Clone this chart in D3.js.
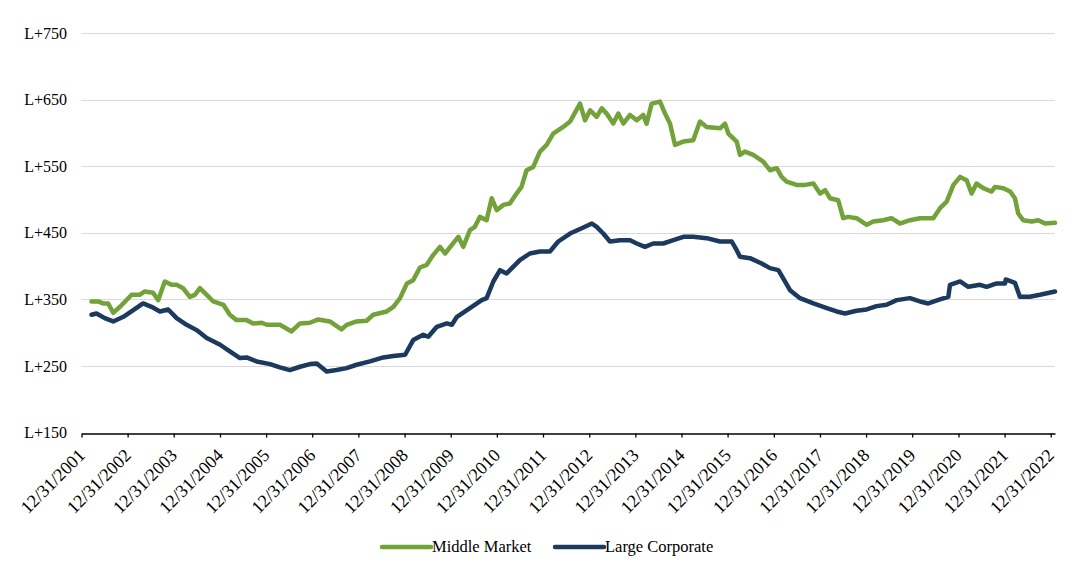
<!DOCTYPE html>
<html>
<head>
    <title>Middle Market vs Large Corporate spreads</title>
    <script src="https://d3js.org/d3.v7.min.js"></script>
    <style>
        body { margin: 0; background: #fff; }
        svg { display: block; }
        .grid line { stroke: #d9d9d9; stroke-width: 1px; }
        .series { fill: none; stroke-width: 4.5px; stroke-linejoin: round; stroke-linecap: round; }
    </style>
</head>
<body>
    <svg></svg>
    <script>
        // Datos (spread sobre LIBOR, pb)
        const mmDates = ["2002-03-20","2002-05-11","2002-06-20","2002-07-30","2002-09-08","2002-11-01","2003-02-01","2003-04-06","2003-05-16","2003-07-20","2003-08-30","2003-10-21","2003-12-14","2004-01-23","2004-03-14","2004-05-06","2004-06-15","2004-07-25","2004-09-17","2004-11-08","2005-01-27","2005-03-19","2005-05-11","2005-07-29","2005-09-20","2005-11-26","2006-01-05","2006-04-19","2006-07-20","2006-09-25","2006-12-13","2007-02-17","2007-05-19","2007-08-20","2007-09-29","2007-12-17","2008-03-05","2008-04-27","2008-08-12","2008-10-03","2008-11-25","2009-01-18","2009-03-09","2009-05-01","2009-06-24","2009-08-15","2009-10-07","2009-11-16","2010-01-09","2010-03-01","2010-04-09","2010-06-01","2010-07-10","2010-08-19","2010-10-11","2010-11-20","2010-12-30","2011-02-21","2011-04-13","2011-06-05","2011-07-14","2011-08-23","2011-10-15","2011-12-07","2012-01-29","2012-03-21","2012-06-08","2012-08-01","2012-10-19","2012-11-28","2013-01-07","2013-02-28","2013-04-09","2013-05-18","2013-07-09","2013-08-18","2013-09-27","2013-11-19","2014-01-11","2014-03-03","2014-03-30","2014-05-09","2014-07-14","2014-08-23","2014-10-01","2014-11-10","2015-01-15","2015-04-03","2015-05-26","2015-07-18","2015-11-01","2015-12-10","2016-01-06","2016-03-12","2016-04-07","2016-05-16","2016-07-21","2016-10-08","2016-11-30","2017-01-23","2017-03-03","2017-04-11","2017-06-29","2017-09-04","2017-11-09","2018-01-01","2018-02-10","2018-03-20","2018-05-24","2018-07-03","2018-08-12","2018-10-17","2019-01-05","2019-02-26","2019-05-15","2019-07-20","2019-09-25","2019-12-13","2020-03-01","2020-06-15","2020-08-07","2020-09-29","2020-11-21","2021-01-13","2021-03-06","2021-04-14","2021-05-23","2021-07-15","2021-09-20","2021-10-16","2021-12-21","2022-02-13","2022-03-23","2022-04-18","2022-05-27","2022-08-02","2022-09-24","2022-11-16","2023-02-03"];
        const mmValues = [347,347,344,344,330,339,357,357,362,360,349,377,372,372,367,354,357,367,357,347,342,327,319,319,314,315,312,312,302,314,315,320,317,305,312,317,318,327,332,339,352,374,379,398,402,417,429,419,432,444,429,454,459,474,469,502,484,492,494,509,519,544,549,572,582,599,609,617,644,619,634,624,637,629,614,629,614,627,619,627,614,644,647,629,614,582,587,589,617,609,607,614,599,587,567,572,567,557,544,547,534,527,522,522,524,509,514,502,499,472,474,472,462,467,469,472,464,469,472,472,487,497,522,534,529,509,524,517,512,519,517,512,502,479,469,467,469,464,465];

        const lcDates = ["2002-03-20","2002-04-29","2002-07-03","2002-09-08","2002-11-27","2003-02-14","2003-05-02","2003-07-08","2003-09-13","2003-11-17","2004-01-23","2004-04-11","2004-06-29","2004-09-17","2005-01-01","2005-03-19","2005-06-07","2005-07-29","2005-10-17","2006-02-01","2006-04-19","2006-07-07","2006-09-25","2006-12-13","2007-02-05","2007-04-24","2007-07-12","2007-09-29","2007-12-17","2008-04-01","2008-07-15","2008-10-03","2009-01-04","2009-03-09","2009-05-27","2009-07-06","2009-09-12","2009-11-30","2010-01-09","2010-02-18","2010-06-01","2010-09-02","2010-10-11","2010-12-03","2011-01-25","2011-03-18","2011-05-09","2011-07-01","2011-09-18","2011-12-07","2012-02-24","2012-04-30","2012-08-01","2012-11-02","2013-01-21","2013-02-28","2013-04-21","2013-06-13","2013-09-01","2013-11-19","2014-01-11","2014-03-17","2014-05-21","2014-08-09","2014-10-28","2015-01-15","2015-04-03","2015-07-18","2015-11-01","2016-02-02","2016-03-12","2016-04-07","2016-06-25","2016-09-26","2016-11-30","2017-02-05","2017-03-29","2017-05-08","2017-07-26","2017-11-09","2018-02-23","2018-05-12","2018-07-17","2018-10-17","2019-01-05","2019-03-24","2019-06-11","2019-08-30","2019-12-13","2020-03-01","2020-05-06","2020-08-07","2020-10-12","2020-10-25","2021-01-13","2021-03-19","2021-06-19","2021-08-11","2021-10-30","2022-01-04","2022-01-09","2022-03-23","2022-05-01","2022-07-19","2022-10-07","2023-02-03"];
        const lcValues = [327,329,322,317,324,334,344,339,332,335,322,312,304,292,282,272,262,263,257,253,248,244,249,253,254,242,244,247,252,257,263,265,267,289,297,294,309,314,312,324,337,349,352,377,394,389,399,409,419,422,422,437,449,457,464,459,449,437,439,439,434,429,434,434,439,444,444,442,437,437,424,414,412,404,397,394,377,364,352,344,337,332,329,333,335,340,342,349,352,347,344,350,354,372,377,369,372,369,374,374,380,375,354,354,357,362];

        const yTicks = [150, 250, 350, 450, 550, 650, 750];
        const tickYears = d3.range(2001, 2023);
        const seriesNames = ["Middle Market", "Large Corporate"];
        const seriesColors = ["#72a239", "#1c395e"];

        // Configuracion
        const width = 1082, height = 576;
        const FONT = "Liberation Serif";
        const parse = d3.timeParse("%Y-%m-%d");
        const fmt = d3.timeFormat("%m/%d/%Y");

        const svg = d3.select("svg")
            .attr("width", width)
            .attr("height", height)
            .attr("font-family", FONT);

        const x = d3.scaleTime()
            .domain([new Date(2001, 11, 31), new Date(2023, 1, 3)])
            .range([81.5, 1055]);
        const y = d3.scaleLinear()
            .domain([150, 750])
            .range([432.7, 33]);

        // Lineas de cuadricula
        svg.append("g")
            .attr("class", "grid")
            .selectAll("line")
            .data(yTicks.filter(d => d > 150))
            .join("line")
            .attr("x1", x.range()[0])
            .attr("x2", x.range()[1])
            .attr("y1", d => Math.round(y(d)) + 0.5)
            .attr("y2", d => Math.round(y(d)) + 0.5);

        // Eje Y (solo etiquetas)
        const yAxis = svg.append("g")
            .attr("transform", "translate(67,0)")
            .call(d3.axisLeft(y).tickValues(yTicks).tickSize(0).tickPadding(0).tickFormat(d => "L+" + d))
            .attr("font-family", FONT)
            .attr("font-size", 16);
        yAxis.select(".domain").remove();
        yAxis.selectAll("text")
            .style("font-family", `"${FONT}"`)
            .style("font-size", "16px")
            .attr("fill", "#000");

        // Eje X
        const tickDates = tickYears.map(yr => new Date(yr, 11, 31));
        const xAxis = svg.append("g")
            .attr("transform", `translate(0,${Math.round(y(150)) + 0.5})`)
            .call(d3.axisBottom(x).tickValues(tickDates).tickSizeInner(4).tickSizeOuter(0).tickFormat(fmt))
            .attr("font-family", FONT)
            .attr("font-size", 18);
        xAxis.select(".domain").attr("stroke", "#000").attr("stroke-width", 1.3);
        xAxis.selectAll(".tick line").attr("stroke", "#000").attr("stroke-width", 1.3);
        xAxis.selectAll("text")
            .style("font-family", `"${FONT}"`)
            .style("font-size", "18px")
            .attr("fill", "#000")
            .attr("text-anchor", "end")
            .attr("y", 0)
            .attr("dy", 0)
            .attr("transform", "translate(4,23) rotate(-45)");

        // Series
        const line = d3.line()
            .x(d => x(d[0]))
            .y(d => y(d[1]));

        const series = [
            mmDates.map((d, i) => [parse(d), mmValues[i]]),
            lcDates.map((d, i) => [parse(d), lcValues[i]])
        ];

        svg.append("g")
            .selectAll("path")
            .data(series)
            .join("path")
            .attr("class", "series")
            .attr("stroke", (d, i) => seriesColors[i])
            .attr("d", line);

        // Leyenda
        const legendX = [382, 555];
        const legend = svg.append("g")
            .selectAll("g")
            .data(seriesNames)
            .join("g")
            .attr("transform", (d, i) => `translate(${legendX[i]},547)`);

        legend.append("line")
            .attr("x1", 0)
            .attr("x2", 49)
            .attr("stroke", (d, i) => seriesColors[i])
            .attr("stroke-width", 4.5)
            .attr("stroke-linecap", "round");

        legend.append("text")
            .attr("x", 50)
            .attr("dy", "0.33em")
            .style("font-family", `"${FONT}"`)
            .style("font-size", "16.5px")
            .attr("fill", "#000")
            .text(d => d);
    </script>
</body>
</html>
